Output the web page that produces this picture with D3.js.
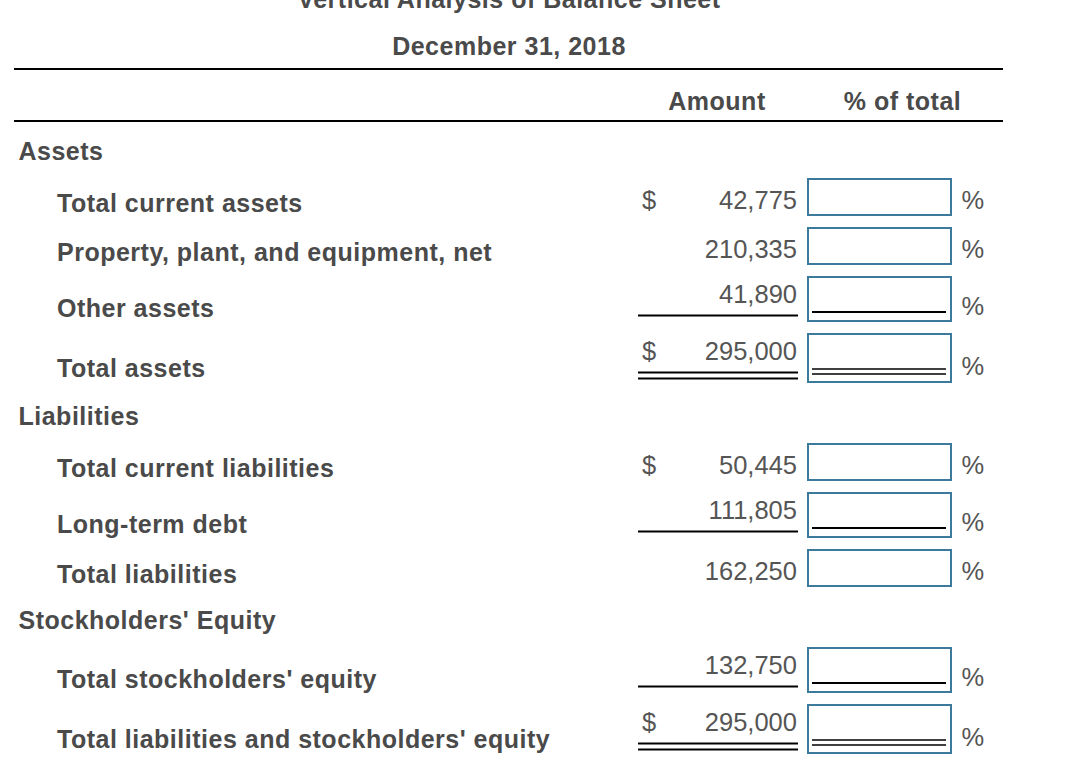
<!DOCTYPE html>
<html>
<head>
<meta charset="utf-8">
<script src="https://cdn.jsdelivr.net/npm/d3@7"></script>
<style>
  html, body { margin: 0; padding: 0; background: #ffffff; }
  svg { display: block; }
</style>
</head>
<body>
<svg id="chart" width="1066" height="780"></svg>
<script>
// ---- data ----
const titleText = "Vertical Analysis of Balance Sheet";
const dateText = "December 31, 2018";
const columnHeaders = ["Amount", "% of total"];
const labels = [
  "Assets",
  "Total current assets",
  "Property, plant, and equipment, net",
  "Other assets",
  "Total assets",
  "Liabilities",
  "Total current liabilities",
  "Long-term debt",
  "Total liabilities",
  "Stockholders' Equity",
  "Total stockholders' equity",
  "Total liabilities and stockholders' equity"
];
const rowKinds = ["section", "plain", "plain", "single", "double", "section", "plain", "single", "plain", "section", "single", "double"];
const amounts = [null, 42775, 210335, 41890, 295000, null, 50445, 111805, 162250, null, 132750, 295000];
const dollarSigns = [false, true, false, false, true, false, true, false, false, false, false, true];

// ---- layout ----
const W = 1066, H = 780;
const svg = d3.select("#chart");
const textColor = "#4a4a4a";
const numColor = "#555555";
const boxColor = "#3b7a9b";
const labelFont = "'Liberation Sans', Arial, Helvetica, sans-serif";
const boldSize = 25, boldSpacing = 0.5, numSize = 25.5;

const tableLeft = 14, tableRight = 1003;
const col = { section: 18.5, item: 57, dollar: 642, amountRight: 797, ruleL: 638, ruleR: 798,
              boxL: 808, boxW: 143, innerL: 812, innerR: 946, pct: 961.5 };

// row heights per kind
const boxHeight = { plain: 38, single: 46, double: 50 };
const rowGap = 11, sectionH = 60;
const offsets = {
  plain:  { label: 34, amount: 31, pct: 31, rules: [], inner: [] },
  single: { label: 41, amount: 26.5, pct: 38.5, rules: [39.5], inner: [36] },
  double: { label: 44, amount: 27, pct: 41.5, rules: [39.5, 45.5], inner: [36, 41] }
};

// compute cumulative row tops
const rows = [];
let y = 118;
labels.forEach((lab, i) => {
  const kind = rowKinds[i];
  if (kind === "section") {
    rows.push({ i, kind, label: lab, top: y, labelY: y + 42 });
    y += sectionH;
  } else {
    const h = boxHeight[kind];
    const o = offsets[kind];
    rows.push({ i, kind, label: lab, top: y, h, labelY: y + o.label, amountY: y + o.amount,
                pctY: y + o.pct, rules: o.rules.map(d => y + d), inner: o.inner.map(d => y + d),
                amount: amounts[i], dollar: dollarSigns[i] });
    y += h + (i < labels.length - 1 && rowKinds[i + 1] !== "section" ? rowGap : 0);
  }
});

const fmt = d3.format(",");

function boldText(sel) {
  return sel.attr("font-family", labelFont).attr("font-weight", "bold")
    .attr("font-size", boldSize).attr("letter-spacing", boldSpacing).attr("fill", textColor);
}

// title
boldText(svg.append("text").attr("x", 509).attr("y", 8).attr("text-anchor", "middle")).text(titleText);
boldText(svg.append("text").attr("x", 509).attr("y", 55).attr("text-anchor", "middle")).text(dateText);

// header rules
svg.selectAll("line.hdr").data([69, 121]).join("line").attr("class", "hdr")
  .attr("x1", tableLeft).attr("x2", tableRight).attr("y1", d => d).attr("y2", d => d)
  .attr("stroke", "#000").attr("stroke-width", 2);

boldText(svg.selectAll("text.colhdr").data(columnHeaders).join("text").attr("class", "colhdr")
  .attr("x", (d, i) => [717, 902.5][i]).attr("y", 110).attr("text-anchor", "middle"))
  .text(d => d);

// row labels
boldText(svg.selectAll("text.lab").data(rows).join("text").attr("class", "lab")
  .attr("x", d => d.kind === "section" ? col.section : col.item)
  .attr("y", d => d.labelY))
  .text(d => d.label);

const dataRows = rows.filter(d => d.kind !== "section");

// dollar signs
svg.selectAll("text.dol").data(dataRows.filter(d => d.dollar)).join("text").attr("class", "dol")
  .attr("x", col.dollar).attr("y", d => d.amountY)
  .attr("font-family", labelFont).attr("font-size", numSize).attr("fill", numColor).text("$");

// amounts
svg.selectAll("text.amt").data(dataRows).join("text").attr("class", "amt")
  .attr("x", col.amountRight).attr("y", d => d.amountY).attr("text-anchor", "end")
  .attr("font-family", labelFont).attr("font-size", numSize).attr("fill", numColor)
  .text(d => fmt(d.amount));

// amount rules
const amtRules = dataRows.flatMap(d => d.rules.map(r => ({ y: r, kind: d.kind })));
svg.selectAll("line.arule").data(amtRules).join("line").attr("class", "arule")
  .attr("x1", col.ruleL).attr("x2", col.ruleR).attr("y1", d => d.y).attr("y2", d => d.y)
  .attr("stroke", "#000").attr("stroke-width", d => d.kind === "double" ? 1.8 : 2);

// input boxes
svg.selectAll("rect.box").data(dataRows).join("rect").attr("class", "box")
  .attr("x", col.boxL).attr("y", d => d.top + 1).attr("width", col.boxW).attr("height", d => d.h - 2)
  .attr("fill", "#fff").attr("stroke", boxColor).attr("stroke-width", 2);

const innerRules = dataRows.flatMap(d => d.inner.map(r => ({ y: r, kind: d.kind })));
svg.selectAll("line.irule").data(innerRules).join("line").attr("class", "irule")
  .attr("x1", col.innerL).attr("x2", col.innerR).attr("y1", d => d.y).attr("y2", d => d.y)
  .attr("stroke", "#000").attr("stroke-width", d => d.kind === "double" ? 1.6 : 2);

// percent signs
svg.selectAll("text.pct").data(dataRows).join("text").attr("class", "pct")
  .attr("x", col.pct).attr("y", d => d.pctY)
  .attr("font-family", labelFont).attr("font-size", numSize).attr("fill", numColor).text("%");
</script>
</body>
</html>
